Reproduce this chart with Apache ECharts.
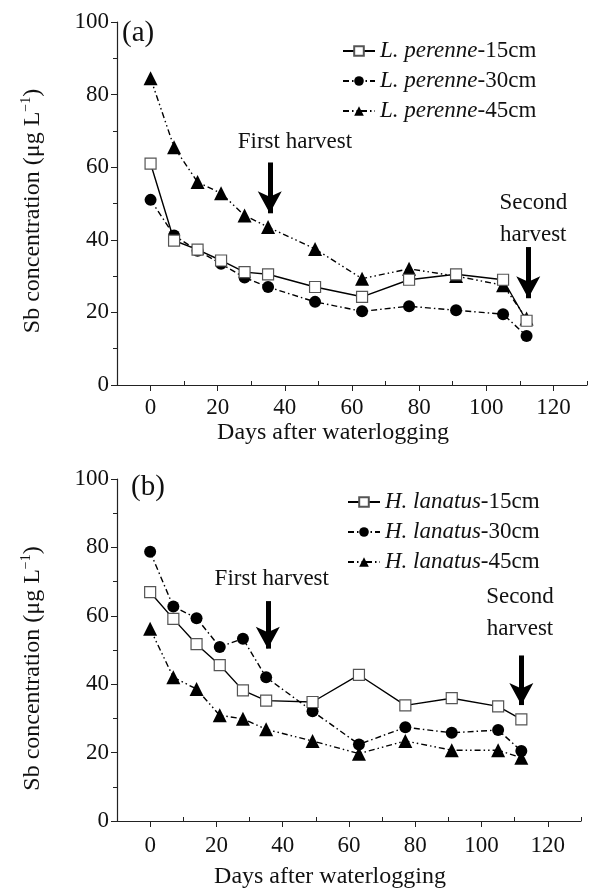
<!DOCTYPE html>
<html>
<head>
<meta charset="utf-8">
<script src="https://cdn.jsdelivr.net/npm/echarts@6/dist/echarts.min.js"></script>
<style>
  html, body { margin: 0; padding: 0; background: #fff; }
  #chart { width: 592px; height: 890px; }
</style>
</head>
<body>
<div id="chart"></div>
<script>
// sampling days (shared by both panels)
const days = [0, 7, 14, 21, 28, 35, 49, 63, 77, 91, 105, 112];

// panel (a) L. perenne
const perenne15 = [61.0, 39.8, 37.3, 34.3, 31.1, 30.5, 27.0, 24.3, 29.0, 30.5, 29.0, 17.7];
const perenne30 = [51.0, 41.2, 37.0, 33.4, 29.6, 27.0, 22.9, 20.3, 21.7, 20.6, 19.5, 13.5];
const perenne45 = [84.5, 65.5, 55.9, 52.8, 46.7, 43.5, 37.5, 29.3, 32.0, 30.0, 27.5, 18.3];

// panel (b) H. lanatus
const lanatus15 = [66.9, 59.1, 51.7, 45.6, 38.2, 35.2, 34.8, 42.7, 33.8, 35.9, 33.5, 29.7];
const lanatus30 = [78.7, 62.7, 59.3, 50.9, 53.3, 42.0, 32.1, 22.4, 27.4, 25.8, 26.6, 20.5];
const lanatus45 = [56.2, 42.0, 38.6, 30.9, 29.9, 26.8, 23.4, 19.7, 23.4, 20.7, 20.7, 18.5];

// tick labels
const xMajor = [0, 20, 40, 60, 80, 100, 120];
const xMinor = [-10, 10, 30, 50, 70, 90, 110, 130];

// harvest arrows: [day, from, to]
const arrowsA = [[35.5, 61.3, 47.3], [112.5, 38.0, 23.9]];
const arrowsB = [[35.5, 64.3, 50.4], [112, 48.4, 33.9]];
// harvest notes: [day, y, text]
const notesA = [[43, 67, 'First harvest'], [114, 45.7, 'Second\nharvest']];
const notesB = [[36.7, 70.7, 'First harvest'], [111.6, 60.9, 'Second\nharvest']];

const FONT = 'Liberation Serif';
const INK = '#111';

const chart = echarts.init(document.getElementById('chart'));

const pts = vals => days.map((d, i) => [d, vals[i]]);

const styles = {
  '15cm': { symbol: 'rect', size: 11, line: 'solid', fill: '#fff', border: '#555' },
  '30cm': { symbol: 'circle', size: 12, line: [6, 3, 1.5, 3], fill: '#000', border: '#000' },
  '45cm': { symbol: 'triangle', size: 14, line: [6, 3, 1.5, 3, 1.5, 3], fill: '#000', border: '#000' },
};

function mkSeries(name, vals, depth, idx) {
  const s = styles[depth];
  return {
    name: name,
    type: 'line',
    xAxisIndex: idx * 2,
    yAxisIndex: idx,
    data: pts(vals),
    symbol: s.symbol,
    symbolSize: s.size,
    showAllSymbol: true,
    lineStyle: { color: '#000', width: 1.4, type: s.line },
    itemStyle: { color: s.fill, borderColor: s.border, borderWidth: depth === '15cm' ? 1.2 : 0 },
    z: depth === '15cm' ? 4 : 3,
  };
}

function arrowMarks(arrows, notes) {
  return {
    markLine: {
      silent: true,
      symbol: ['none', 'arrow'],
      symbolSize: [18, 22],
      lineStyle: { color: '#000', width: 5, type: 'solid' },
      itemStyle: { color: '#000' },
      label: { show: false },
      emphasis: { disabled: true },
      data: arrows.map(a => [{ coord: [a[0], a[1]] }, { coord: [a[0], a[2]] }]),
    },
    markPoint: {
      silent: true,
      symbol: 'circle',
      symbolSize: 0,
      label: {
        show: true, position: 'inside', color: INK,
        fontFamily: FONT, fontSize: 23, lineHeight: 32, align: 'center',
        formatter: p => p.name,
      },
      data: notes.map(n => ({ name: n[2], coord: [n[0], n[1]] })),
    },
  };
}

function xAxes(gridIndex, margin, gap) {
  return [
    {
      gridIndex: gridIndex, type: 'value', min: -10, max: 130,
      name: 'Days after waterlogging', nameLocation: 'middle', nameGap: gap,
      nameTextStyle: { fontFamily: FONT, fontSize: 24, color: INK, padding: [0, 38, 0, 0] },
      axisLine: { show: true, onZero: false, lineStyle: { color: '#222', width: 1.2 } },
      axisTick: { show: true, customValues: xMajor, length: 6, lineStyle: { color: '#222' } },
      axisLabel: { customValues: xMajor, fontFamily: FONT, fontSize: 23, color: INK, margin: margin },
      splitLine: { show: false },
    },
    {
      gridIndex: gridIndex, type: 'value', min: -10, max: 130,
      axisLine: { show: false },
      axisTick: { show: true, customValues: xMinor, length: 4, lineStyle: { color: '#222' } },
      axisLabel: { show: false },
      splitLine: { show: false },
    },
  ];
}

function yAxis(gridIndex, shift) {
  return {
    gridIndex: gridIndex, type: 'value', min: 0, max: 100, interval: 20,
    name: 'Sb concentration (\u03bcg L{sup|\u22121})', nameLocation: 'middle', nameGap: 70,
    nameTextStyle: {
      fontFamily: FONT, fontSize: 24, color: INK, lineHeight: 28, padding: [0, shift, 0, 0],
      rich: { sup: { fontFamily: FONT, fontSize: 14, color: INK, verticalAlign: 'top', lineHeight: 28 } },
    },
    axisLine: { show: true, onZero: false, lineStyle: { color: '#222', width: 1.2 } },
    axisTick: { show: true, length: 6, lineStyle: { color: '#222' } },
    minorTick: { show: true, splitNumber: 2, length: 4, lineStyle: { color: '#222' } },
    axisLabel: { fontFamily: FONT, fontSize: 23, color: INK, margin: 8 },
    splitLine: { show: false },
  };
}

const legendText = {
  fontFamily: FONT, fontSize: 23, color: INK, lineHeight: 24,
  rich: { i: { fontFamily: FONT, fontSize: 23, fontStyle: 'italic', color: INK, lineHeight: 24 } },
};
const legendFmt = name => {
  const k = name.lastIndexOf('-');
  return '{i|' + name.slice(0, k) + '}' + name.slice(k);
};

const sA = [
  mkSeries('L. perenne-15cm', perenne15, '15cm', 0),
  mkSeries('L. perenne-30cm', perenne30, '30cm', 0),
  mkSeries('L. perenne-45cm', perenne45, '45cm', 0),
];
const sB = [
  mkSeries('H. lanatus-15cm', lanatus15, '15cm', 1),
  mkSeries('H. lanatus-30cm', lanatus30, '30cm', 1),
  mkSeries('H. lanatus-45cm', lanatus45, '45cm', 1),
];
Object.assign(sA[0], arrowMarks(arrowsA, notesA));
Object.assign(sB[0], arrowMarks(arrowsB, notesB));

chart.setOption({
  animation: false,
  backgroundColor: '#fff',
  title: [
    { text: '(a)', left: 122, top: 19, padding: 0, textStyle: { fontFamily: FONT, fontSize: 29, fontWeight: 'normal', color: INK } },
    { text: '(b)', left: 131, top: 473, padding: 0, textStyle: { fontFamily: FONT, fontSize: 29, fontWeight: 'normal', color: INK } },
  ],
  legend: [
    {
      data: sA.map(s => s.name), orient: 'vertical', left: 342, top: 39, padding: 0,
      itemWidth: 32, itemHeight: 12, itemGap: 6, selectedMode: false,
      textStyle: legendText, formatter: legendFmt,
    },
    {
      data: sB.map(s => s.name), orient: 'vertical', left: 347, top: 490, padding: 0,
      itemWidth: 32, itemHeight: 12, itemGap: 6, selectedMode: false,
      textStyle: legendText, formatter: legendFmt,
    },
  ],
  grid: [
    { left: 117, top: 22, width: 470, height: 363 },
    { left: 117, top: 479, width: 464, height: 345 },
  ],
  xAxis: [...xAxes(0, 11, 36), ...xAxes(1, 13, 44)],
  yAxis: [yAxis(0, 15), yAxis(1, 37)],
  series: [...sA, ...sB],
});
</script>
</body>
</html>
